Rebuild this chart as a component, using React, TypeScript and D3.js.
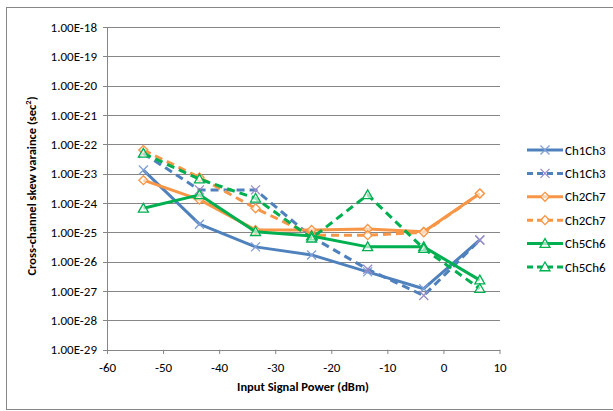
import React from 'react';
import * as d3 from 'd3';

const xValues = [-53.6, -43.6, -33.6, -23.6, -13.6, -3.6, 6.4];
const ch1ch3Solid = [1.33e-23, 1.9e-25, 3.2e-26, 1.7e-26, 4.5e-27, 1.2e-27, 5.5e-26];
const ch1ch3Dashed = [4.9e-23, 2.8e-24, 2.8e-24, 7.0e-26, 5.5e-27, 7.0e-28, 5.5e-26];
const ch2ch7Solid = [6.0e-24, 1.3e-24, 1.2e-25, 1.2e-25, 1.3e-25, 1.05e-25, 2.1e-24];
const ch2ch7Dashed = [6.4e-23, 7.5e-24, 6.6e-25, 8.0e-26, 8.0e-26, 1.0e-25, 2.1e-24];
const ch5ch6Solid = [6.6e-25, 1.9e-24, 1.05e-25, 7.5e-26, 3.2e-26, 3.2e-26, 2.35e-27];
const ch5ch6Dashed = [4.9e-23, 6.5e-24, 1.45e-24, 6.3e-26, 1.9e-24, 2.8e-26, 1.2e-27];
const yTicks = [1e-18, 1e-19, 1e-20, 1e-21, 1e-22, 1e-23, 1e-24, 1e-25, 1e-26, 1e-27, 1e-28, 1e-29];
const xTicks = [-60, -50, -40, -30, -20, -10, 0, 10];

const series = [
  { name: 'Ch1Ch3', values: ch1ch3Solid, color: '#4F81BD', markColor: '#7f9fd6', dash: null, marker: 'x' },
  { name: 'Ch1Ch3', values: ch1ch3Dashed, color: '#4F81BD', markColor: '#9a8cc6', dash: '8,5', marker: 'x' },
  { name: 'Ch2Ch7', values: ch2ch7Solid, color: '#F79646', markColor: '#F79646', dash: null, marker: 'diamond' },
  { name: 'Ch2Ch7', values: ch2ch7Dashed, color: '#F79646', markColor: '#F79646', dash: '8,5', marker: 'diamond' },
  { name: 'Ch5Ch6', values: ch5ch6Solid, color: '#00B050', markColor: '#00B050', dash: null, marker: 'triangle' },
  { name: 'Ch5Ch6', values: ch5ch6Dashed, color: '#00B050', markColor: '#00B050', dash: '8,5', marker: 'triangle' },
];

const fmt = (v: number) => '1.00E-' + Math.round(-Math.log10(v));

const Marker = ({ type, x, y, color }: { type: string; x: number; y: number; color: string }) => {
  if (type === 'x') {
    const s = 4.5;
    return (
      <path d={`M${x - s},${y - s}L${x + s},${y + s}M${x - s},${y + s}L${x + s},${y - s}`}
        stroke={color} strokeWidth={1.3} fill="none" />
    );
  }
  if (type === 'diamond') {
    const s = 4.5;
    return (
      <path d={`M${x},${y - s}L${x + s},${y}L${x},${y + s}L${x - s},${y}Z`}
        stroke={color} strokeWidth={1.3} fill="white" fillOpacity={0.6} />
    );
  }
  const s = 5;
  return (
    <path d={`M${x},${y - s}L${x + s},${y + s * 0.75}L${x - s},${y + s * 0.75}Z`}
      stroke={color} strokeWidth={1.3} fill="white" fillOpacity={0.6} />
  );
};

export default function App() {
  const width = 613;
  const height = 411;
  const x = d3.scaleLinear().domain([-60, 10]).range([107.5, 500]);
  const y = d3.scaleLog().domain([1e-29, 1e-18]).range([349.7, 27]);
  const line = d3.line<number>()
    .x((_, i) => x(xValues[i]))
    .y(d => y(d));
  const font = "Calibri, Carlito, 'Liberation Sans', Arial, sans-serif";

  return (
    <svg width={width} height={height} style={{ position: 'absolute', left: 0, top: 0 }}
      fontFamily={font}>
      <rect x={0} y={0} width={width} height={height} fill="white" />
      <rect x={6.5} y={7.5} width={width + 10} height={402} fill="none" stroke="#868686" strokeWidth={1} />

      {yTicks.map(t => (
        <g key={t}>
          <line x1={107.5} x2={500} y1={Math.round(y(t)) + 0.5} y2={Math.round(y(t)) + 0.5} stroke="#868686" />
          <line x1={103} x2={107.5} y1={Math.round(y(t)) + 0.5} y2={Math.round(y(t)) + 0.5} stroke="#868686" />
          <text x={97} y={y(t)} dy="0.35em" textAnchor="end" fontSize={13} fill="#000">{fmt(t)}</text>
        </g>
      ))}
      <line x1={107.5} x2={107.5} y1={27} y2={350} stroke="#868686" />
      {xTicks.map(t => (
        <g key={t}>
          <line x1={x(t)} x2={x(t)} y1={349.7} y2={354} stroke="#868686" />
          <text x={x(t)} y={367} dy="0.35em" textAnchor="middle" fontSize={13} fill="#000">{t}</text>
        </g>
      ))}

      <text x={303} y={387} dy="0.35em" textAnchor="middle" fontSize={12.5} fontWeight="bold">Input Signal Power (dBm)</text>
      <text transform="translate(32,186) rotate(-90)" textAnchor="middle" dy="0.35em" fontSize={12.5} fontWeight="bold">
        Cross-channel skew varaince (sec<tspan dy="-5" fontSize={8.5}>2</tspan><tspan dy="5">)</tspan>
      </text>

      {series.map((s, i) => (
        <g key={i}>
          <path d={line(s.values) || ''} fill="none" stroke={s.color} strokeWidth={3}
            strokeDasharray={s.dash || undefined} strokeLinejoin="round" />
          {s.values.map((v, j) => (
            <Marker key={j} type={s.marker} x={x(xValues[j])} y={y(v)} color={s.markColor} />
          ))}
        </g>
      ))}

      {series.map((s, i) => {
        const ly = 150 + i * 23.4;
        return (
          <g key={'l' + i}>
            <line x1={527} x2={563} y1={ly} y2={ly} stroke={s.color} strokeWidth={3}
              strokeDasharray={s.dash ? '6,4' : undefined} />
            <Marker type={s.marker} x={545} y={ly} color={s.markColor} />
            <text x={565} y={ly} dy="0.35em" fontSize={13}>{s.name}</text>
          </g>
        );
      })}
    </svg>
  );
}
